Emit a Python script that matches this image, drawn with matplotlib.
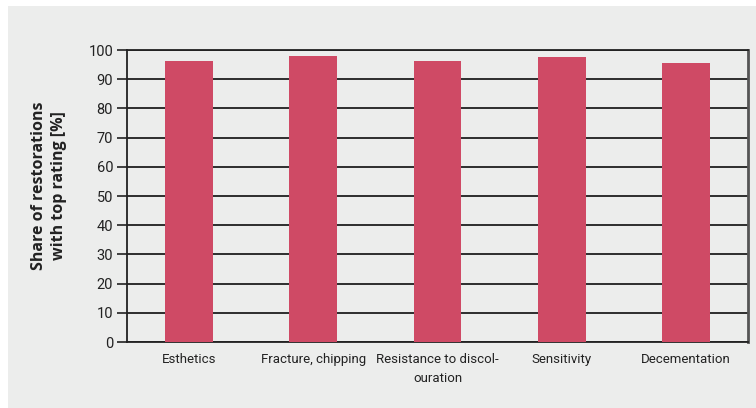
import matplotlib
matplotlib.use('Agg')
import matplotlib.pyplot as plt
from matplotlib.patches import Rectangle
import numpy as np

# values
categories = ['Esthetics', 'Fracture, chipping', 'Resistance to discol-\nouration', 'Sensitivity', 'Decementation']
share_top = [96.2, 97.9, 96.2, 97.6, 95.5]
y_ticks = [0, 10, 20, 30, 40, 50, 60, 70, 80, 90, 100]

plt.rcParams['font.family'] = ['Roboto', 'DejaVu Sans']

bg = '#ecedec'
fig = plt.figure(figsize=(7.56, 4.08), dpi=100)
fig.patch.set_facecolor('white')
fig.patches.append(Rectangle((8 / 756, 0), 1, 1 - 6 / 408, transform=fig.transFigure,
                             facecolor=bg, edgecolor='none', zorder=-10))

ax = fig.add_axes([127 / 756, 1 - 342 / 408, (748 - 127) / 756, (342 - 50) / 408])
ax.set_facecolor(bg)

x = np.arange(len(categories))
ax.bar(x, share_top, width=0.385, color='#cf4a65', zorder=3)

ax.set_xlim(-0.5, len(categories) - 0.5)
ax.set_ylim(0, 100)
ax.set_yticks(y_ticks)
ax.tick_params(axis='y', length=7, width=1.2, color='#222222', labelsize=10.5, pad=3, labelcolor='#222222')
ax.tick_params(axis='x', length=0, labelsize=9.5, pad=8, labelcolor='#222222')
ax.set_xticks(x)
ax.set_xticklabels(categories, linespacing=1.6)
ax.yaxis.grid(True, color='#1e1e1e', linewidth=1.3, zorder=1)
ax.set_axisbelow(True)
for s in ['left', 'bottom', 'right', 'top']:
    ax.spines[s].set_color('#222222')
    ax.spines[s].set_linewidth(1.3)
ax.spines['right'].set_color('#555555')
ax.spines['right'].set_linewidth(2)

fig.text(49 / 756, 1 - 186 / 408, 'Share of restorations\nwith top rating [%]', rotation=90,
         ha='center', va='center', fontsize=11.5, fontweight='bold', linespacing=1.3,
         family=['Open Sans', 'DejaVu Sans'], color='#222222')

plt.savefig('out.png', dpi=100, facecolor=fig.get_facecolor())
